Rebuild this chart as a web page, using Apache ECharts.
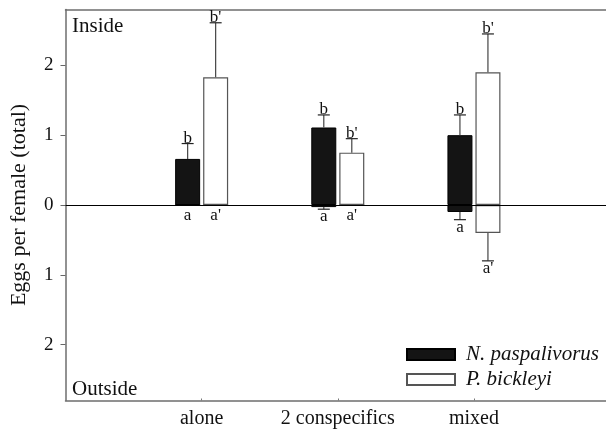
<!DOCTYPE html>
<html>
<head>
<meta charset="utf-8">
<script src="https://cdn.jsdelivr.net/npm/echarts@6/dist/echarts.min.js"></script>
<style>
  html, body { margin: 0; padding: 0; background: #fff; }
  #main { width: 606px; height: 429px; }
</style>
</head>
<body>
<div id="main"></div>
<script>
// treatments sit at x = 1, 2, 3
var treatments = ['alone', '2 conspecifics', 'mixed'];
var xPos = [1, 2, 3];
var yTicks = [-2, -1, 0, 1, 2];

// N. paspalivorus
var npInside = [0.66, 1.11, 1.0];
var npOutside = [0, -0.03, -0.10];
var npErrInside = [0.88, 1.29, 1.29];
var npErrOutside = [null, -0.06, -0.21];
var npLetterInside = ['b', 'b', 'b'];
var npLetterOutside = ['a', 'a', 'a'];

// P. bickleyi
var pbInside = [1.83, 0.75, 1.9];
var pbOutside = [0, 0, -0.40];
var pbErrInside = [2.61, 0.95, 2.45];
var pbErrOutside = [null, null, -0.80];
var pbLetterInside = ["b'", "b'", "b'"];
var pbLetterOutside = ["a'", "a'", "a'"];

var serif = '"Liberation Serif", "Times New Roman", serif';
var barW = 25, gapPx = 3;
var axisGrey = '#6e6e6e';

function pairs(arr) {
  return arr.map(function (v, i) { return [xPos[i], v]; });
}

// error bars + significance letters next to each bar
function errorBars(sp) {
  return function (params, api) {
    var i = params.dataIndex;
    var cx = xPos[i];
    var x = api.coord([cx, 0])[0] + sp.offset;
    var zeroY = api.coord([cx, 0])[1];
    var kids = [];
    var lineStyle = { stroke: '#444', lineWidth: 1.2 };
    var capStyle = { stroke: '#222', lineWidth: 1.2 };
    var font = '17px ' + serif;

    var topY = api.coord([cx, sp.inside[i]])[1];
    var capY = api.coord([cx, sp.errIn[i]])[1];
    kids.push({ type: 'line', shape: { x1: x, y1: topY, x2: x, y2: capY }, style: lineStyle });
    kids.push({ type: 'line', shape: { x1: x - 6, y1: capY, x2: x + 6, y2: capY }, style: capStyle });
    kids.push({ type: 'text', style: { text: sp.letterIn[i], x: x, y: capY + 3, font: font, fill: '#111', align: 'center', verticalAlign: 'bottom' } });

    if (sp.errOut[i] != null) {
      var botY = api.coord([cx, sp.outside[i]])[1];
      var capY2 = api.coord([cx, sp.errOut[i]])[1];
      kids.push({ type: 'line', shape: { x1: x, y1: botY, x2: x, y2: capY2 }, style: lineStyle });
      kids.push({ type: 'line', shape: { x1: x - 6, y1: capY2, x2: x + 6, y2: capY2 }, style: capStyle });
      kids.push({ type: 'text', style: { text: sp.letterOut[i], x: x, y: capY2 - 1, font: font, fill: '#111', align: 'center', verticalAlign: 'top' } });
    } else {
      kids.push({ type: 'text', style: { text: sp.letterOut[i], x: x, y: zeroY + 2, font: font, fill: '#111', align: 'center', verticalAlign: 'top' } });
    }
    return { type: 'group', children: kids };
  };
}

var np = { offset: -(barW + gapPx) / 2, inside: npInside, outside: npOutside, errIn: npErrInside, errOut: npErrOutside, letterIn: npLetterInside, letterOut: npLetterOutside };
var pb = { offset: (barW + gapPx) / 2, inside: pbInside, outside: pbOutside, errIn: pbErrInside, errOut: pbErrOutside, letterIn: pbLetterInside, letterOut: pbLetterOutside };

var npStyle = { color: '#141414', borderColor: '#000', borderWidth: 1 };
var pbStyle = { color: '#fff', borderColor: '#555', borderWidth: 1.2 };

var chart = echarts.init(document.getElementById('main'));
chart.setOption({
  animation: false,
  textStyle: { fontFamily: serif },
  grid: { left: 65.5, top: 9.5, right: 0, bottom: 28.5 },
  legend: {
    data: ['N. paspalivorus', 'P. bickleyi'],
    orient: 'vertical',
    left: 406, top: 344,
    padding: 0,
    itemWidth: 48, itemHeight: 11, itemGap: 4,
    icon: 'rect',
    selectedMode: false,
    textStyle: { fontFamily: serif, fontSize: 21, fontStyle: 'italic', color: '#111', padding: [0, 0, 0, 6] }
  },
  xAxis: [
    {
      type: 'value',
      min: 0, max: 3.97,
      axisLine: { show: true, onZero: false, lineStyle: { color: axisGrey, width: 1.5 } },
      axisTick: { show: true, inside: true, length: 2, lineStyle: { color: '#777' }, customValues: xPos },
      axisLabel: {
        fontSize: 20, color: '#111', margin: 8, fontFamily: serif,
        customValues: xPos,
        formatter: function (v) { return treatments[xPos.indexOf(v)] || ''; }
      },
      splitLine: { show: false }
    },
    {
      // top frame line only
      type: 'value', position: 'top',
      min: 0, max: 3.97,
      axisLine: { show: true, onZero: false, lineStyle: { color: axisGrey, width: 1.5 } },
      axisTick: { show: false }, axisLabel: { show: false }, splitLine: { show: false }
    }
  ],
  yAxis: {
    type: 'value',
    min: -2.8, max: 2.8,
    name: 'Eggs per female (total)',
    nameLocation: 'middle',
    nameGap: 35,
    nameTextStyle: { fontSize: 22, color: '#111', fontFamily: serif },
    axisLine: { show: true, onZero: false, lineStyle: { color: axisGrey, width: 1.5 } },
    axisTick: { show: true, length: 5, lineStyle: { color: '#666' }, customValues: yTicks },
    axisLabel: {
      fontSize: 19, color: '#111', margin: 12, fontFamily: serif,
      customValues: yTicks,
      formatter: function (v) { return String(Math.abs(v)); }
    },
    splitLine: { show: false }
  },
  graphic: [
    { type: 'text', left: 72, top: 16, style: { text: 'Inside', font: '21px ' + serif, fill: '#111' } },
    { type: 'text', left: 72, top: 379, style: { text: 'Outside', font: '21px ' + serif, fill: '#111' } }
  ],
  series: [
    {
      name: 'N. paspalivorus', type: 'bar', stack: 'np', data: pairs(npInside),
      barWidth: barW, itemStyle: npStyle,
      markLine: {
        silent: true, symbol: 'none', z: 5,
        label: { show: false },
        lineStyle: { color: '#000', width: 1, type: 'solid' },
        data: [{ yAxis: 0 }]
      }
    },
    { name: 'np-out', type: 'bar', stack: 'np', data: pairs(npOutside), barWidth: barW, itemStyle: npStyle },
    { name: 'P. bickleyi', type: 'bar', stack: 'pb', data: pairs(pbInside), barWidth: barW, itemStyle: pbStyle },
    { name: 'pb-out', type: 'bar', stack: 'pb', data: pairs(pbOutside), barWidth: barW, barGap: '12%', itemStyle: pbStyle },
    { type: 'custom', z: 6, renderItem: errorBars(np), data: pairs(npInside) },
    { type: 'custom', z: 6, renderItem: errorBars(pb), data: pairs(pbInside) }
  ]
});
</script>
</body>
</html>
